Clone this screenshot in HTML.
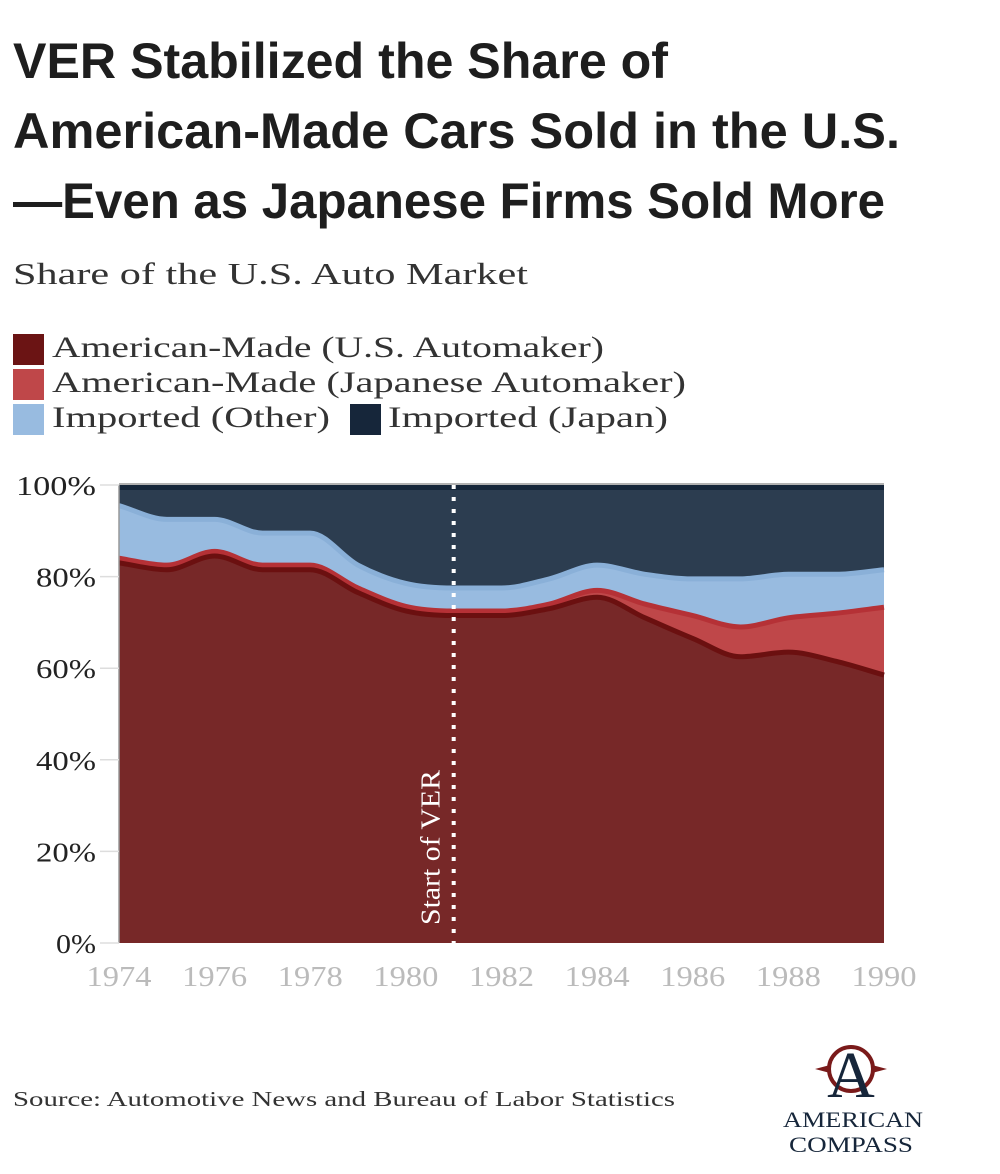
<!DOCTYPE html>
<html><head><meta charset="utf-8"><style>
html,body{margin:0;padding:0;background:#fff;width:1000px;height:1174px;overflow:hidden}
svg{display:block}
</style></head><body>
<svg width="1000" height="1174" viewBox="0 0 1000 1174">
<g font-family="'Liberation Sans Narrow','Liberation Sans',sans-serif" font-weight="bold" fill="#1e1e1e" font-size="50">
<text x="13" y="78" textLength="655" lengthAdjust="spacingAndGlyphs">VER Stabilized the Share of</text>
<text x="13" y="148" textLength="887" lengthAdjust="spacingAndGlyphs">American-Made Cars Sold in the U.S.</text>
<text x="13" y="218" textLength="872" lengthAdjust="spacingAndGlyphs">—Even as Japanese Firms Sold More</text>
</g>
<g font-family="'Liberation Serif','DejaVu Serif',serif" fill="#333">
<text x="13" y="284" font-size="31" textLength="515" lengthAdjust="spacingAndGlyphs">Share of the U.S. Auto Market</text>
<rect x="13" y="334" width="31" height="31" fill="#6b1414"/>
<text x="52" y="357" font-size="30" textLength="552" lengthAdjust="spacingAndGlyphs">American-Made (U.S. Automaker)</text>
<rect x="13" y="369" width="31" height="31" fill="#bf4749"/>
<text x="52" y="392" font-size="30" textLength="634" lengthAdjust="spacingAndGlyphs">American-Made (Japanese Automaker)</text>
<rect x="13" y="404" width="31" height="31" fill="#98bbe0"/>
<text x="52" y="427" font-size="30" textLength="278" lengthAdjust="spacingAndGlyphs">Imported (Other)</text>
<rect x="350" y="404" width="31" height="31" fill="#16263a"/>
<text x="388" y="427" font-size="30" textLength="280" lengthAdjust="spacingAndGlyphs">Imported (Japan)</text>
<text x="13" y="1106" font-size="21" textLength="662" lengthAdjust="spacingAndGlyphs">Source: Automotive News and Bureau of Labor Statistics</text>
</g>
<g id="plot"></g>
<g>
<circle cx="851" cy="1069" r="22" fill="none" stroke="#7a1a1a" stroke-width="4"/>
<polygon points="815,1069 830,1065 830,1073" fill="#7a1a1a"/>
<polygon points="887,1069 872,1065 872,1073" fill="#7a1a1a"/>
<text x="851" y="1097" text-anchor="middle" font-family="'Liberation Serif',serif" font-size="66" fill="#16263a">A</text>
<text x="853" y="1127" text-anchor="middle" font-family="'Liberation Serif',serif" font-size="22" fill="#16263a" textLength="140" lengthAdjust="spacingAndGlyphs">AMERICAN</text>
<text x="851" y="1152" text-anchor="middle" font-family="'Liberation Serif',serif" font-size="22" fill="#16263a" textLength="124" lengthAdjust="spacingAndGlyphs">COMPASS</text>
</g>
</svg>
<script>
const years=[1974,1975,1976,1977,1978,1979,1980,1981,1982,1983,1984,1985,1986,1987,1988,1989,1990];
const usAutomaker=[83,81.5,84.5,81.5,81.5,76.5,72.5,71.5,71.5,73,75.5,71,66.5,62.5,63.5,61.5,58.5];
const japaneseAutomaker=[1,1,1,1,1,1,1,1,1,1,1.5,3,5,6.5,7.5,10.5,14.8];
const importedOther=[11.5,10,7,7,7,5,5,5,5,5.5,5.5,6.5,8,10.5,9.5,8.5,8.2];
const yTicks=[0,20,40,60,80,100];
const xTicks=[1974,1976,1978,1980,1982,1984,1986,1988,1990];
const verYear=1981;

const X0=119,X1=884,Y0=943,Y1=485;
const sx=y=>X0+(y-1974)/(1990-1974)*(X1-X0);
const sy=v=>Y0-v/100*(Y0-Y1);
const NS='http://www.w3.org/2000/svg';
const plotG=document.getElementById('plot');
function mk(t,a){const e=document.createElementNS(NS,t);for(const k in a)e.setAttribute(k,a[k]);plotG.appendChild(e);return e;}
function monotonePath(pts){
  const n=pts.length,d=[],m=[];
  for(let i=0;i<n-1;i++)d.push((pts[i+1][1]-pts[i][1])/(pts[i+1][0]-pts[i][0]));
  m[0]=d[0];m[n-1]=d[n-2];
  for(let i=1;i<n-1;i++){m[i]=(d[i-1]*d[i]<=0)?0:(d[i-1]+d[i])/2;}
  for(let i=0;i<n-1;i++){if(d[i]===0){m[i]=0;m[i+1]=0;continue;}
    const a=m[i]/d[i],b=m[i+1]/d[i],s=a*a+b*b;if(s>9){const t=3/Math.sqrt(s);m[i]=t*a*d[i];m[i+1]=t*b*d[i];}}
  let p='M'+pts[0][0]+','+pts[0][1];
  for(let i=0;i<n-1;i++){const h=(pts[i+1][0]-pts[i][0])/3;
    p+=' C'+(pts[i][0]+h)+','+(pts[i][1]+m[i]*h)+' '+(pts[i+1][0]-h)+','+(pts[i+1][1]-m[i+1]*h)+' '+pts[i+1][0]+','+pts[i+1][1];}
  return p;
}
const c1=usAutomaker.slice(),c2=c1.map((v,i)=>v+japaneseAutomaker[i]),c3=c2.map((v,i)=>v+importedOther[i]);
function edgePath(c){return monotonePath(years.map((y,i)=>[sx(y),sy(c[i])]));}
let e=mk('rect',{x:X0,y:Y1,width:X1-X0,height:Y0-Y1,fill:'#2c3d50'});


e=mk('rect',{x:X0,y:Y1,width:X1-X0,height:5,fill:'#16263a'});


const layers=[[c3,'#98bbe0','#8ab0d8','area-imported-other'],[c2,'#bf4749','#b53136','area-japanese-automaker'],[c1,'#772828','#6b1010','area-us-automaker']];
layers.forEach(([c,f,s,n])=>{
  const p=edgePath(c);
  const a=mk('path',{d:p+' L'+X1+','+Y0+' L'+X0+','+Y0+' Z',fill:f});
  
  
  const l=mk('path',{d:p,fill:'none',stroke:s,'stroke-width':5});
  
  
});
e=mk('line',{x1:X0,y1:Y1,x2:X0,y2:Y0,stroke:'#999','stroke-width':1.5});


e=mk('line',{x1:X0,y1:Y1-1,x2:X1,y2:Y1-1,stroke:'#999','stroke-width':1.5});


yTicks.forEach(v=>{
  const lab=v+'%';
  const t=mk('text',{x:96,y:sy(v)+10,'text-anchor':'end','font-family':"'Liberation Serif','DejaVu Serif',serif",'font-size':27,fill:'#222',textLength:lab.length*20,lengthAdjust:'spacingAndGlyphs'});
  t.textContent=lab;
  
  
  const g=mk('line',{x1:100,y1:sy(v),x2:X0,y2:sy(v),stroke:'#ddd','stroke-width':1.5});
  
  
});
xTicks.forEach(y=>{
  const t=mk('text',{x:sx(y),y:986,'text-anchor':'middle','font-family':"'Liberation Serif','DejaVu Serif',serif",'font-size':28,fill:'#bbb',textLength:65,lengthAdjust:'spacingAndGlyphs'});
  t.textContent=y;
  
  
});
const vx=sx(verYear);
e=mk('line',{x1:vx,y1:Y1,x2:vx,y2:Y0,stroke:'#fff','stroke-width':4,'stroke-dasharray':'4,8'});


e=mk('text',{x:0,y:0,transform:'translate('+(vx-14)+',925) rotate(-90)','font-family':"'Liberation Serif','DejaVu Serif',serif",'font-size':27,fill:'#fff',textLength:155,lengthAdjust:'spacingAndGlyphs'});
e.textContent='Start of VER';


</script>
</body></html>
